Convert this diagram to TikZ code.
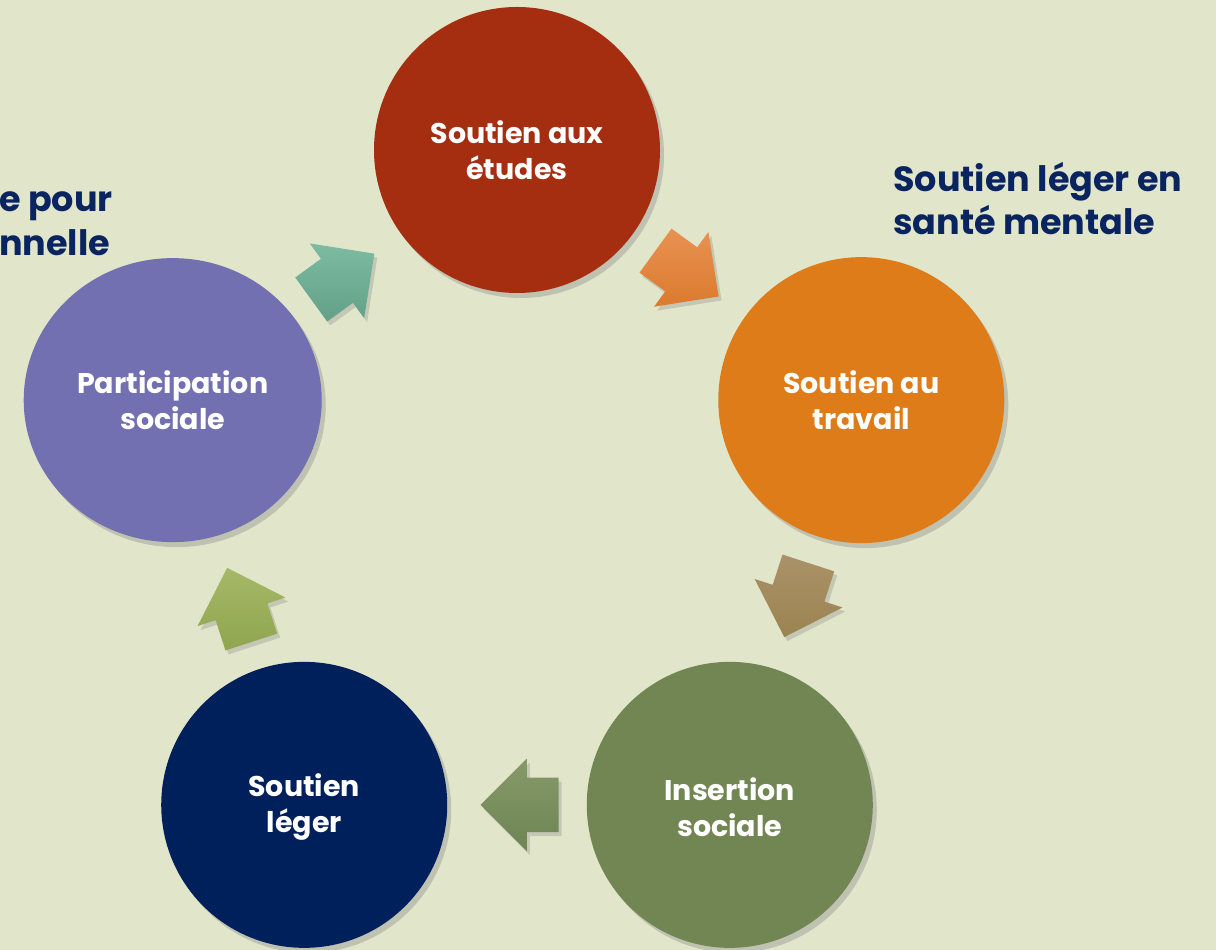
\documentclass[tikz,border=0pt]{standalone}
\usepackage{fontspec}
\setmainfont{Poppins}
\usetikzlibrary{shapes.arrows,shapes.geometric,shadows,calc}
\definecolor{bgcol}{HTML}{E1E6CB}
\definecolor{navy}{HTML}{0A2460}
\definecolor{etudescol}{HTML}{A52E10}
\definecolor{travailcol}{HTML}{DE7C1A}
\definecolor{insertcol}{HTML}{718652}
\definecolor{legercol}{HTML}{00205C}
\definecolor{particol}{HTML}{7270B0}
\tikzset{
  stage/.style={circle, minimum size=286pt, inner sep=0pt, text=white,
    font=\bfseries\fontsize{28.5}{36}\selectfont, align=center,
    drop shadow={shadow xshift=4pt, shadow yshift=-5pt, opacity=0.35}},
  flow/.style={single arrow, draw=none, minimum height=78pt, inner xsep=0pt,
    inner ysep=27pt, single arrow head extend=19pt,
    drop shadow={shadow xshift=3pt, shadow yshift=-4pt, opacity=0.3}},
  sidetext/.style={text=navy, font=\bfseries\fontsize{35}{43}\selectfont,
    align=left, inner sep=0pt}
}
\begin{document}
\begin{tikzpicture}[x=1pt,y=1pt]
\fill[bgcol] (0,0) rectangle (1216,950);
\useasboundingbox (0,0) rectangle (1216,950);
\coordinate (c) at (517,438);

\node[stage, fill=etudescol] (etudes) at ([shift={(c)}]90:362) {Soutien aux\\études};
\node[stage, fill=travailcol] (travail) at ([shift={(c)}]18:362) {Soutien au\\travail};
\node[stage, fill=insertcol] (insertion) at ([shift={(c)}]-54:362) {\\[-8pt]Insertion\\sociale};
\node[stage, fill=legercol] (leger) at ([shift={(c)}]-126:362) {\\[-8pt]Soutien\\léger};
\node[stage, ellipse, minimum width=298pt, minimum height=284pt, fill=particol]
  (participation) at ([shift={(c)}]162:362) {Participation\\sociale};

% fleches entre les cercles
\node[flow, rotate=-36, top color={rgb,255:red,232;green,146;blue,82}, bottom color={rgb,255:red,219;green,122;blue,46}]
  (f1) at ($(etudes)!0.462!(travail)$) {};
\node[flow, rotate=-108, top color={rgb,255:red,170;green,146;blue,104}, bottom color={rgb,255:red,156;green,131;blue,82}]
  (f2) at ($(travail)!0.462!(insertion)$) {};
\node[flow, rotate=180, top color={rgb,255:red,134;green,153;blue,106}, bottom color={rgb,255:red,110;green,132;blue,82}]
  (f3) at ($(insertion)!0.462!(leger)$) {};
\node[flow, rotate=108, top color={rgb,255:red,166;green,184;blue,103}, bottom color={rgb,255:red,143;green,165;blue,79}]
  (f4) at ($(leger)!0.462!(participation)$) {};
\node[flow, rotate=36, top color={rgb,255:red,125;green,187;blue,163}, bottom color={rgb,255:red,98;green,160;blue,136}]
  (f5) at ($(participation)!0.462!(etudes)$) {};

\node[sidetext, anchor=north west] (sante) at (893,788) {Soutien léger en\\santé mentale};
\node[sidetext, anchor=north west] (pro) at (-1,758) {e pour\\nnelle};
\end{tikzpicture}
\end{document}
